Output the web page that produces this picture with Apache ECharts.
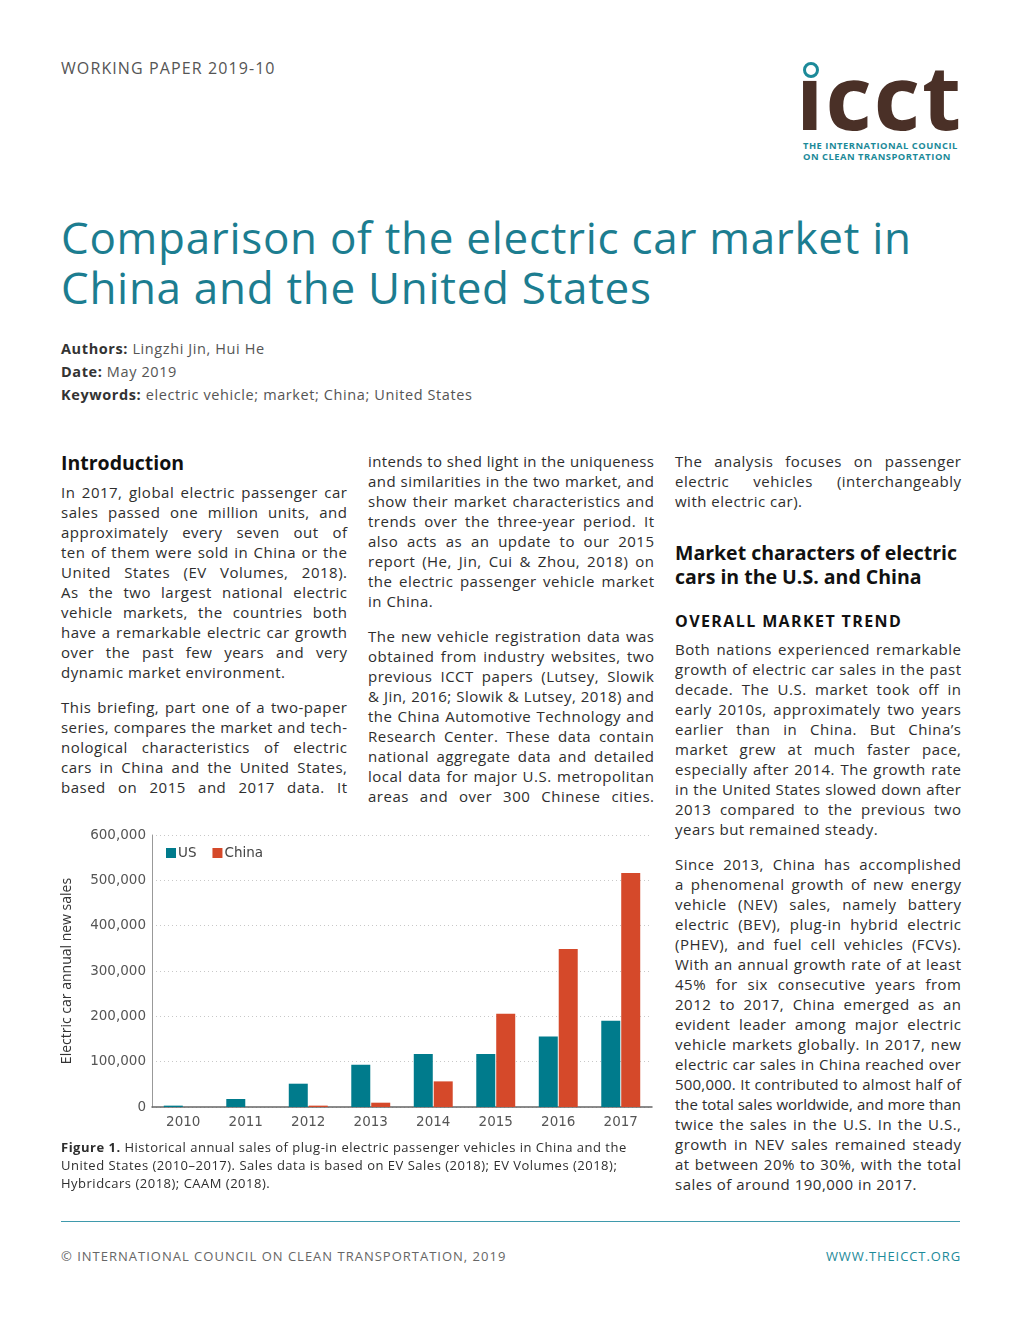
<!DOCTYPE html>
<html><head><meta charset="utf-8">
<script src="https://cdn.jsdelivr.net/npm/echarts@6/dist/echarts.min.js"></script>
<style>
html,body{margin:0;padding:0;background:#fff;}
body{width:1020px;height:1320px;position:relative;font-family:"Open Sans","Noto Sans",sans-serif;color:#2e2e2e;overflow:hidden;}
.a{position:absolute;white-space:nowrap;}
.ln{position:absolute;height:20px;line-height:20px;font-size:15px;letter-spacing:0.5px;white-space:nowrap;}
</style></head>
<body>
<div class="a" style="left:61px;top:58px;font-size:16px;color:#555;letter-spacing:1.1px;line-height:20px;">WORKING PAPER 2019-10</div>

<!-- logo -->
<div class="a" style="left:803px;top:62px;width:10px;height:10px;border:3px solid #1c8a99;border-radius:50%;"></div>
<div class="a" style="left:796px;top:40px;font-size:90px;font-weight:700;color:#4a3027;letter-spacing:2px;line-height:110px;">ıcct</div>
<div class="a" style="left:803px;top:141px;font-size:9.4px;font-weight:700;color:#1c8a99;line-height:10px;letter-spacing:0.5px;">THE INTERNATIONAL COUNCIL</div>
<div class="a" style="left:803px;top:152px;font-size:9.4px;font-weight:700;color:#1c8a99;line-height:10px;letter-spacing:0.5px;">ON CLEAN TRANSPORTATION</div>

<div class="a" style="left:61px;top:212px;font-size:44px;color:#1c7d90;line-height:50px;letter-spacing:0.7px;">Comparison of the electric car market in</div>
<div class="a" style="left:61px;top:262px;font-size:44px;color:#1c7d90;line-height:50px;letter-spacing:0.7px;">China and the United States</div>

<div class="a" style="left:61px;top:339px;font-size:14.5px;color:#555;line-height:20px;letter-spacing:0.6px;"><b style="color:#333">Authors:</b> Lingzhi Jin, Hui He</div>
<div class="a" style="left:61px;top:362px;font-size:14.5px;color:#555;line-height:20px;letter-spacing:0.6px;"><b style="color:#333">Date:</b> May 2019</div>
<div class="a" style="left:61px;top:385px;font-size:14.5px;color:#555;line-height:20px;letter-spacing:0.6px;"><b style="color:#333">Keywords:</b> electric vehicle; market; China; United States</div>

<div class="a" style="left:61px;top:450px;font-size:19.5px;font-weight:700;color:#111;line-height:26px;">Introduction</div>
<div class="a" style="left:675px;top:541px;font-size:19.5px;font-weight:700;color:#111;line-height:24px;">Market characters of electric</div>
<div class="a" style="left:675px;top:565px;font-size:19.5px;font-weight:700;color:#111;line-height:24px;">cars in the U.S. and China</div>
<div class="a" style="left:675px;top:610px;font-size:16px;font-weight:700;color:#111;line-height:22px;letter-spacing:1.4px;">OVERALL MARKET TREND</div>

<div id="text"></div>

<div id="chart" class="a" style="left:40px;top:820px;width:620px;height:320px;"></div>

<div class="a" style="left:61px;top:1138px;font-size:13px;color:#2e2e2e;line-height:18px;letter-spacing:0.5px;"><b>Figure 1.</b> Historical annual sales of plug-in electric passenger vehicles in China and the</div>
<div class="a" style="left:61px;top:1156px;font-size:13px;color:#2e2e2e;line-height:18px;letter-spacing:0.5px;">United States (2010–2017). Sales data is based on EV Sales (2018); EV Volumes (2018);</div>
<div class="a" style="left:61px;top:1174px;font-size:13px;color:#2e2e2e;line-height:18px;letter-spacing:0.5px;">Hybridcars (2018); CAAM (2018).</div>

<div class="a" style="left:61px;top:1221px;width:899px;height:0;border-top:1.5px solid #3f9aac;"></div>
<div class="a" style="left:61px;top:1247px;font-size:13px;color:#666;line-height:18px;letter-spacing:1px;">© INTERNATIONAL COUNCIL ON CLEAN TRANSPORTATION, 2019</div>
<div class="a" style="right:59px;top:1247px;font-size:13px;color:#1c8a99;line-height:18px;letter-spacing:0.9px;">WWW.THEICCT.ORG</div>

<script>
// ---- chart data ----
const years = ['2010','2011','2012','2013','2014','2015','2016','2017'];
const usSales = [3000, 17600, 51400, 93200, 116700, 116700, 155700, 190200];
const chinaSales = [0, 0, 3000, 9500, 56500, 205600, 348800, 516000];
const yTicks = [0, 100000, 200000, 300000, 400000, 500000, 600000];
const seriesNames = ['US', 'China'];
const axisTitle = 'Electric car annual new sales';

// ---- body text lines (J = justified, L = last line) ----
const columns = [
 {x:61, y0:482, lines:[
  ['In 2017, global electric passenger car','J'],
  ['sales passed one million units, and','J'],
  ['approximately every seven out of','J'],
  ['ten of them were sold in China or the','J'],
  ['United States (EV Volumes, 2018).','J'],
  ['As the two largest national electric','J'],
  ['vehicle markets, the countries both','J'],
  ['have a remarkable electric car growth','J'],
  ['over the past few years and very','J'],
  ['dynamic market environment.','L'],
  null,
  ['This briefing, part one of a two-paper','J'],
  ['series, compares the market and tech-','J'],
  ['nological characteristics of electric','J'],
  ['cars in China and the United States,','J'],
  ['based on 2015 and 2017 data. It','J']]},
 {x:368, y0:451, lines:[
  ['intends to shed light in the uniqueness','J'],
  ['and similarities in the two market, and','J'],
  ['show their market characteristics and','J'],
  ['trends over the three-year period. It','J'],
  ['also acts as an update to our 2015','J'],
  ['report (He, Jin, Cui & Zhou, 2018) on','J'],
  ['the electric passenger vehicle market','J'],
  ['in China.','L'],
  null,
  ['The new vehicle registration data was','J'],
  ['obtained from industry websites, two','J'],
  ['previous ICCT papers (Lutsey, Slowik','J'],
  ['& Jin, 2016; Slowik & Lutsey, 2018) and','J'],
  ['the China Automotive Technology and','J'],
  ['Research Center. These data contain','J'],
  ['national aggregate data and detailed','J'],
  ['local data for major U.S. metropolitan','J'],
  ['areas and over 300 Chinese cities.','J']]},
 {x:675, y0:451, lines:[
  ['The analysis focuses on passenger','J'],
  ['electric vehicles (interchangeably','J'],
  ['with electric car).','L']]},
 {x:675, y0:639, lines:[
  ['Both nations experienced remarkable','J'],
  ['growth of electric car sales in the past','J'],
  ['decade. The U.S. market took off in','J'],
  ['early 2010s, approximately two years','J'],
  ['earlier than in China. But China’s','J'],
  ['market grew at much faster pace,','J'],
  ['especially after 2014. The growth rate','J'],
  ['in the United States slowed down after','J'],
  ['2013 compared to the previous two','J'],
  ['years but remained steady.','L'],
  null,
  ['Since 2013, China has accomplished','J'],
  ['a phenomenal growth of new energy','J'],
  ['vehicle (NEV) sales, namely battery','J'],
  ['electric (BEV), plug-in hybrid electric','J'],
  ['(PHEV), and fuel cell vehicles (FCVs).','J'],
  ['With an annual growth rate of at least','J'],
  ['45% for six consecutive years from','J'],
  ['2012 to 2017, China emerged as an','J'],
  ['evident leader among major electric','J'],
  ['vehicle markets globally. In 2017, new','J'],
  ['electric car sales in China reached over','J'],
  ['500,000. It contributed to almost half of','J'],
  ['the total sales worldwide, and more than','J'],
  ['twice the sales in the U.S. In the U.S.,','J'],
  ['growth in NEV sales remained steady','J'],
  ['at between 20% to 30%, with the total','J'],
  ['sales of around 190,000 in 2017.','L']]}
];
const COLW = 286, BASE_LS = 0.5;
const host = document.getElementById('text');
columns.forEach(c => {
  let y = c.y0;
  c.lines.forEach(l => {
    if (l === null) { y += 15; return; }
    const d = document.createElement('span');
    d.className = 'ln';
    d.style.left = c.x + 'px';
    d.style.top = y + 'px';
    d.textContent = l[0];
    host.appendChild(d);
    const n = l[0].length;
    let w = d.getBoundingClientRect().width;
    let ls = BASE_LS;
    if (w > COLW) {
      ls = BASE_LS - (w - COLW + 1) / n;
      d.style.letterSpacing = ls + 'px';
      w = d.getBoundingClientRect().width;
    }
    if (l[1] === 'J') {
      const gaps = (l[0].match(/ /g) || []).length;
      const target = COLW + ls;
      if (gaps > 0 && w < target) d.style.wordSpacing = ((target - w) / gaps) + 'px';
    }
    y += 20;
  });
});

// ---- chart ----
const chart = echarts.init(document.getElementById('chart'), null, {renderer:'canvas'});
const fmt = v => v === 0 ? '0' : v.toLocaleString('en-US');
chart.setOption({
  animation: false,
  textStyle: {fontFamily: '"Open Sans", sans-serif'},
  grid: {left: 112, right: 8, top: 15, height: 272},
  legend: {
    data: seriesNames, left: 121, top: 21, itemWidth: 10, itemHeight: 10, itemGap: 16,
    textStyle: {fontSize: 13.5, color: '#444', padding: [0,0,0,-3], fontFamily: '"DejaVu Sans", sans-serif'}, icon: 'rect'
  },
  xAxis: {
    type: 'category', data: years,
    axisLine: {lineStyle: {color: '#666', width: 1.5}},
    axisTick: {show: false},
    axisLabel: {fontSize: 13.5, color: '#555', margin: 8, fontFamily: '"DejaVu Sans", sans-serif'}
  },
  yAxis: {
    type: 'value', min: yTicks[0], max: yTicks[yTicks.length-1], interval: yTicks[1]-yTicks[0],
    name: axisTitle, nameLocation: 'middle', nameGap: 78,
    nameTextStyle: {fontSize: 14, color: '#333'},
    axisLine: {show: true, lineStyle: {color: '#999', width: 1}},
    axisTick: {show: false},
    axisLabel: {fontSize: 13.5, color: '#555', margin: 6, formatter: fmt, fontFamily: '"DejaVu Sans", sans-serif'},
    splitLine: {lineStyle: {color: '#c8c8c8', type: [1,3], width: 1}}
  },
  series: [
    {name: seriesNames[0], type: 'bar', data: usSales, barWidth: 19, barGap: '5%', itemStyle: {color: '#007b8c'}},
    {name: seriesNames[1], type: 'bar', data: chinaSales, barWidth: 19, barGap: '5%', itemStyle: {color: '#d5492a'}}
  ]
});
</script>
</body></html>
